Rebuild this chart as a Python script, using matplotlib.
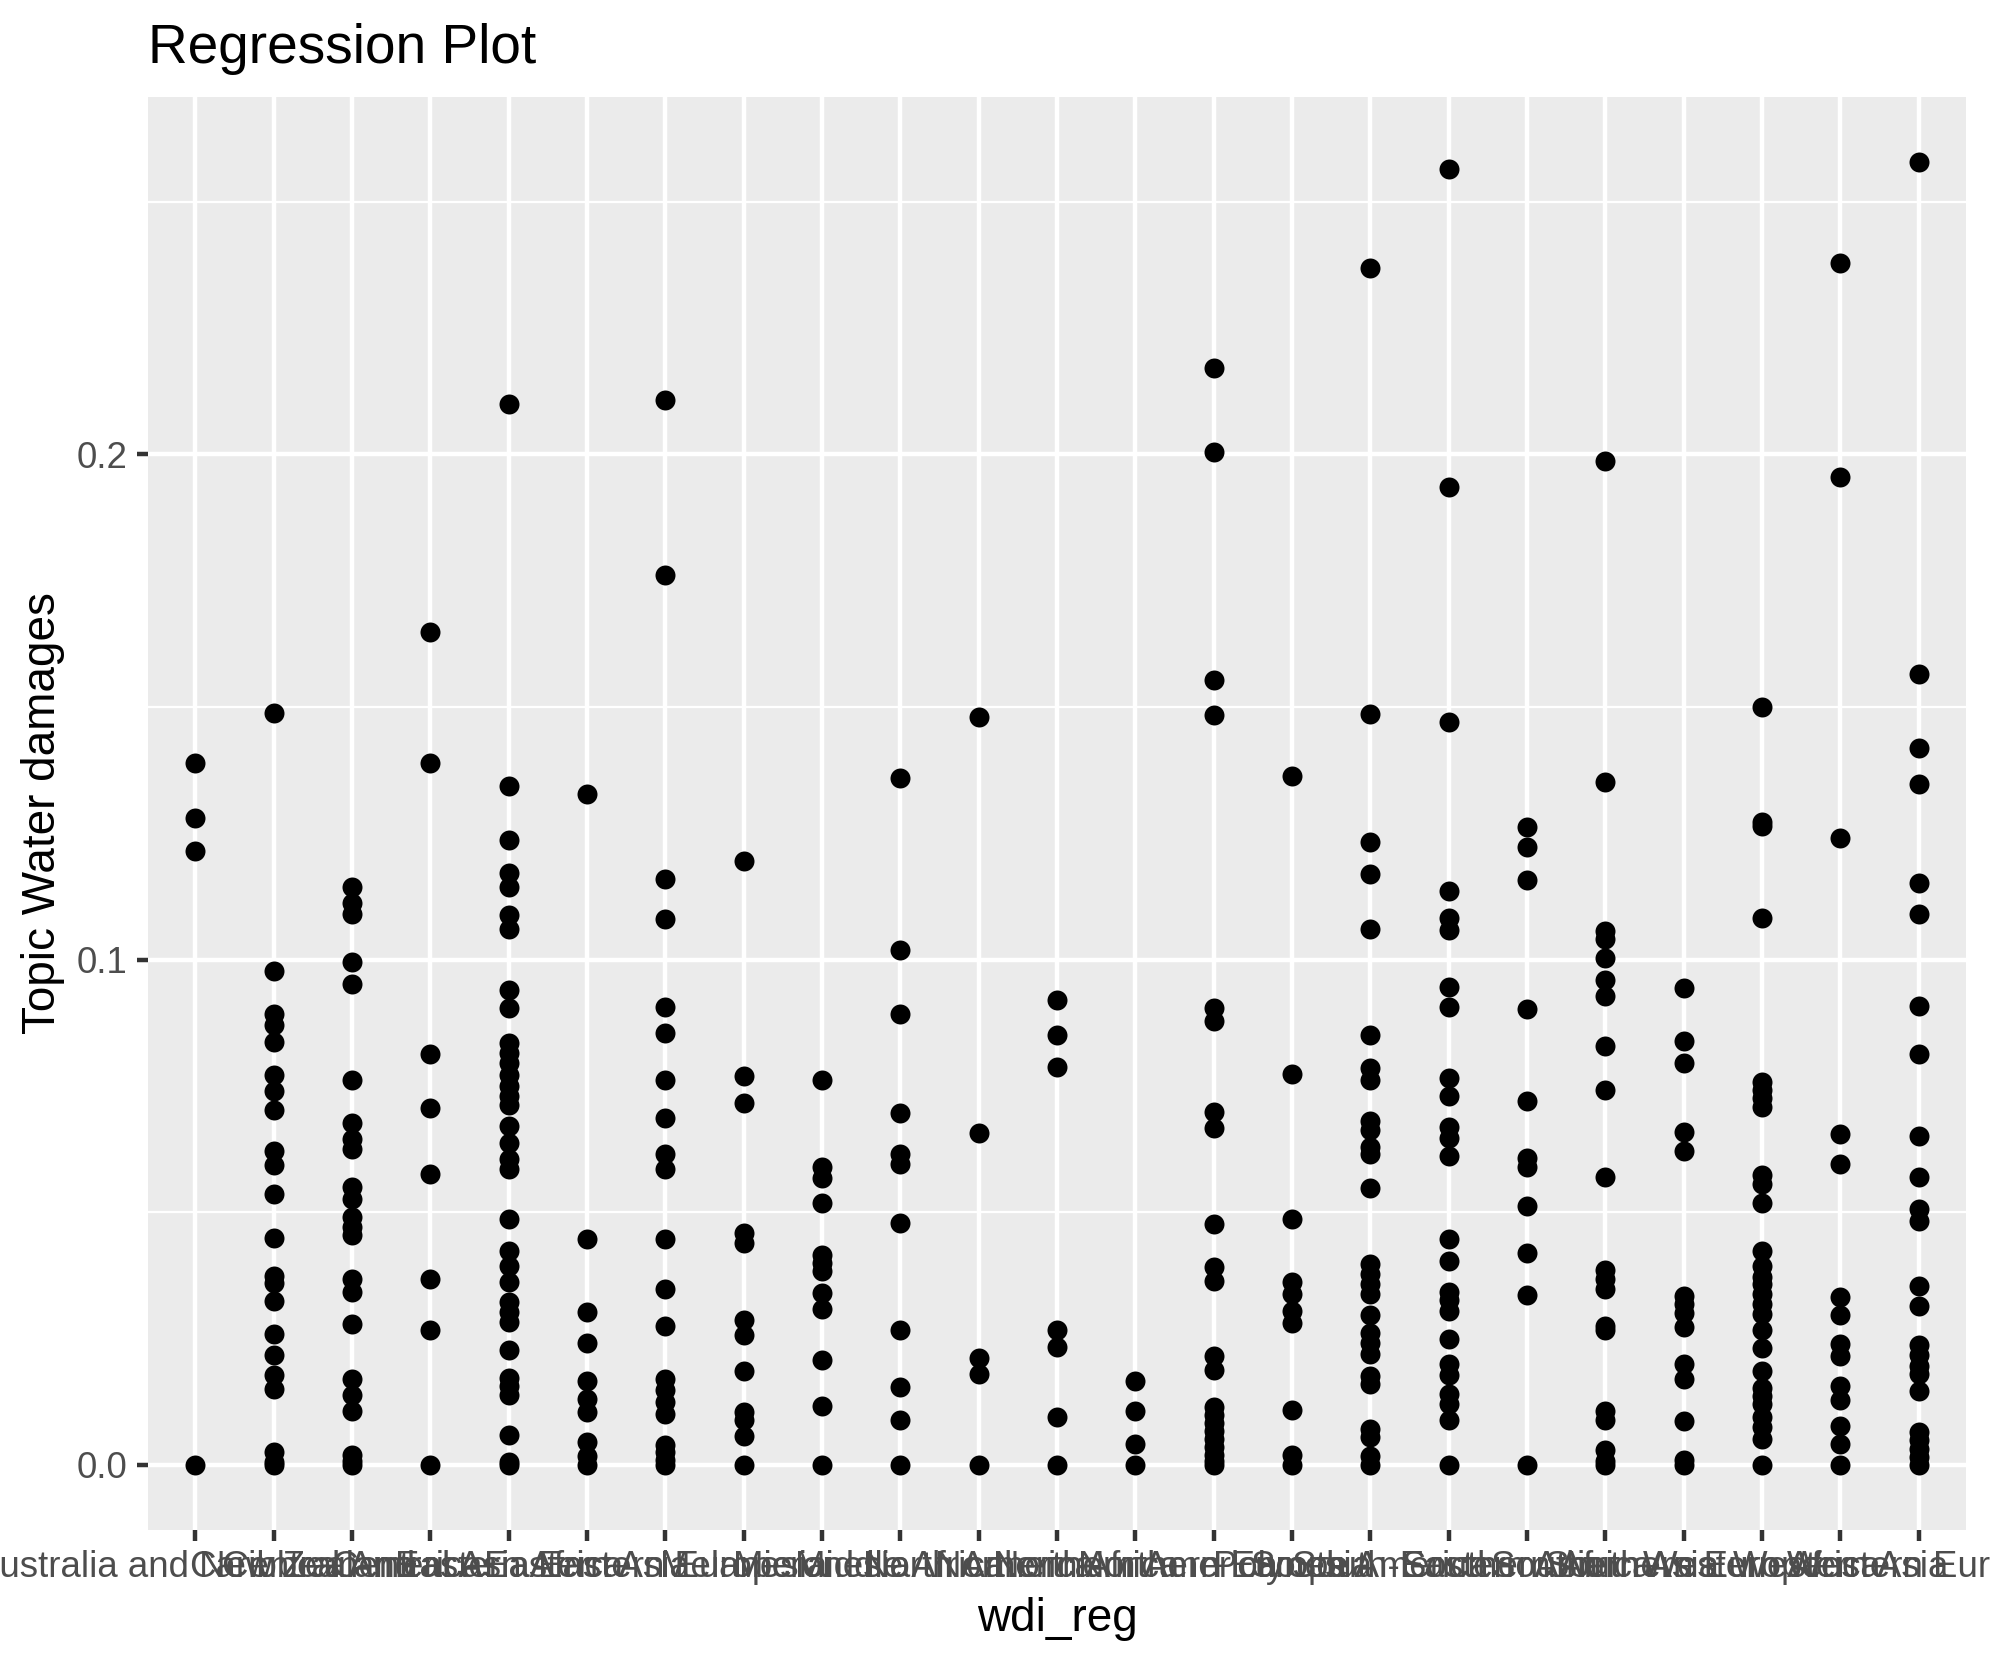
import matplotlib
matplotlib.use("Agg")
import matplotlib.pyplot as plt
import numpy as np

plt.rcParams['font.family'] = ['Liberation Sans', 'DejaVu Sans']

categories = [
    "Australia and New Zealand", "Caribbean", "Central America", "Central Asia",
    "Eastern Africa", "Eastern Asia", "Eastern Europe", "Melanesia", "Micronesia",
    "Middle Africa", "North America", "Northern Africa", "Northern America",
    "Northern Europe", "Polynesia", "South America", "South-Eastern Asia",
    "Southern Africa", "Southern Asia", "Southern Europe", "Western Africa",
    "Western Asia", "Western Europe",
]

v_aus = [0.139, 0.128, 0.1215, 0.0]
v_car = [0.1488, 0.0977, 0.0893, 0.0870, 0.0836, 0.0772, 0.0740, 0.0703, 0.0621, 0.0593, 0.0536,
         0.0449, 0.0373, 0.0360, 0.0324, 0.0259, 0.0218, 0.0178, 0.0150, 0.0025, 0.0005, 0.0]
v_cam = [0.1143, 0.1111, 0.1091, 0.0995, 0.0952, 0.0762, 0.0676, 0.0645, 0.0625, 0.0550, 0.0526,
         0.0490, 0.0470, 0.0455, 0.0367, 0.0342, 0.0278, 0.0170, 0.0138, 0.0106, 0.0020, 0.0008, 0.0]
v_cas = [0.1648, 0.1390, 0.0813, 0.0706, 0.0575, 0.0367, 0.0266, 0.0]
v_eaf = [0.2100, 0.1343, 0.1237, 0.1172, 0.1144, 0.1088, 0.1061, 0.0939, 0.0904, 0.0835, 0.0815,
         0.0795, 0.0772, 0.0750, 0.0730, 0.0712, 0.0671, 0.0636, 0.0605, 0.0585, 0.0486, 0.0423,
         0.0393, 0.0362, 0.0322, 0.0302, 0.0282, 0.0228, 0.0172, 0.0155, 0.0138, 0.0059, 0.0005, 0.0]
v_eas = [0.1327, 0.0446, 0.0302, 0.0241, 0.0165, 0.0130, 0.0104, 0.0044, 0.0018, 0.0]
v_eeu = [0.2108, 0.1761, 0.1159, 0.1081, 0.0906, 0.0855, 0.0762, 0.0686, 0.0615, 0.0585, 0.0446,
         0.0347, 0.0274, 0.0170, 0.0148, 0.0125, 0.0100, 0.0038, 0.0025, 0.0010, 0.0]
v_mel = [0.1195, 0.0770, 0.0716, 0.0458, 0.0438, 0.0286, 0.0256, 0.0185, 0.0104, 0.0089, 0.0057, 0.0]
v_mic = [0.0762, 0.0590, 0.0567, 0.0519, 0.0415, 0.0400, 0.0383, 0.0339, 0.0309, 0.0207, 0.0117, 0.0]
v_maf = [0.1359, 0.1018, 0.0892, 0.0696, 0.0615, 0.0595, 0.0479, 0.0266, 0.0153, 0.0088, 0.0]
v_nam1 = [0.1481, 0.0656, 0.0211, 0.0180, 0.0]
v_naf = [0.0919, 0.0850, 0.0787, 0.0266, 0.0233, 0.0094, 0.0]
v_nam = [0.0165, 0.0106, 0.0040, 0.0]
v_neu = [0.2171, 0.2005, 0.1553, 0.1485, 0.0904, 0.0879, 0.0698, 0.0666, 0.0477, 0.0391, 0.0364,
         0.0216, 0.0188, 0.0114, 0.0098, 0.0082, 0.0066, 0.0050, 0.0035, 0.0020, 0.0008, 0.0]
v_pol = [0.1364, 0.0774, 0.0487, 0.0362, 0.0337, 0.0305, 0.0281, 0.0109, 0.0020, 0.0]
v_sam = [0.2369, 0.1486, 0.1233, 0.1170, 0.1061, 0.0850, 0.0785, 0.0762, 0.0681, 0.0663, 0.0628,
         0.0615, 0.0548, 0.0398, 0.0378, 0.0357, 0.0337, 0.0297, 0.0261, 0.0241, 0.0220, 0.0175,
         0.0160, 0.0071, 0.0054, 0.0018, 0.0]
v_sea = [0.2565, 0.1935, 0.1470, 0.1136, 0.1083, 0.1058, 0.0946, 0.0906, 0.0765, 0.0729, 0.0668,
         0.0646, 0.0612, 0.0446, 0.0403, 0.0342, 0.0327, 0.0304, 0.0248, 0.0200, 0.0178, 0.0140,
         0.0120, 0.0089, 0.0]
v_saf = [0.1263, 0.1223, 0.1157, 0.0903, 0.0720, 0.0607, 0.0590, 0.0512, 0.0420, 0.0335, 0.0]
v_sas = [0.1987, 0.1351, 0.1056, 0.1040, 0.1003, 0.0959, 0.0927, 0.0828, 0.0741, 0.0569, 0.0385,
         0.0368, 0.0347, 0.0274, 0.0266, 0.0107, 0.0089, 0.0030, 0.0008, 0.0]
v_seu = [0.0944, 0.0838, 0.0796, 0.0659, 0.0620, 0.0334, 0.0318, 0.0300, 0.0273, 0.0200, 0.0170,
         0.0086, 0.0010, 0.0]
v_waf = [0.1499, 0.1273, 0.1265, 0.1083, 0.0757, 0.0742, 0.0725, 0.0708, 0.0573, 0.0555, 0.0519,
         0.0423, 0.0393, 0.0372, 0.0357, 0.0337, 0.0319, 0.0299, 0.0266, 0.0231, 0.0186, 0.0151,
         0.0136, 0.0121, 0.0095, 0.0075, 0.0050, 0.0]
v_was = [0.2379, 0.1955, 0.1240, 0.0654, 0.0595, 0.0332, 0.0297, 0.0239, 0.0216, 0.0155, 0.0128,
         0.0077, 0.0040, 0.0]
v_weu = [0.2578, 0.1565, 0.1419, 0.1347, 0.1151, 0.1090, 0.0909, 0.0813, 0.0651, 0.0569, 0.0507,
         0.0482, 0.0354, 0.0315, 0.0236, 0.0218, 0.0195, 0.0180, 0.0145, 0.0064, 0.0048, 0.0032,
         0.0015, 0.0]

series = [v_aus, v_car, v_cam, v_cas, v_eaf, v_eas, v_eeu, v_mel, v_mic, v_maf, v_nam1, v_naf,
          v_nam, v_neu, v_pol, v_sam, v_sea, v_saf, v_sas, v_seu, v_waf, v_was, v_weu]

y_ticks = [0.0, 0.1, 0.2]
y_tick_labels = ["0.0", "0.1", "0.2"]

W, H, DPI = 1990, 1665, 300
fig = plt.figure(figsize=(W / DPI, H / DPI), dpi=DPI)
ax = fig.add_axes([148.4 / W, 1 - 1529.8 / H, (1965.7 - 148.4) / W, (1529.8 - 97.3) / H])
ax.set_facecolor("#EBEBEB")
for s in ax.spines.values():
    s.set_visible(False)

n = len(categories)
xs, ys = [], []
for i, vals in enumerate(series):
    xs.extend([i] * len(vals))
    ys.extend(vals)

allv = np.array(ys)
lo, hi = allv.min(), allv.max()
pad = 0.05 * (hi - lo)
ax.set_ylim(lo - pad, hi + pad)
ax.set_xlim(-0.6, n - 1 + 0.6)

ax.set_yticks(y_ticks)
ax.set_yticklabels(y_tick_labels)
ax.set_yticks([0.05, 0.15, 0.25], minor=True)
ax.set_xticks(range(n))
ax.set_xticklabels(categories)

ax.grid(which="major", color="white", linewidth=1.07)
ax.grid(which="minor", axis="y", color="white", linewidth=0.53)
ax.set_axisbelow(True)

ax.tick_params(axis="both", which="major", direction="out", length=2.75, width=1.07,
               color="#333333", labelcolor="#4D4D4D", labelsize=8.8, pad=2.2)
ax.tick_params(axis="y", which="minor", length=0)

ax.scatter(xs, ys, s=23, color="black", linewidths=0, zorder=3)

ax.set_xlabel("wdi_reg", fontsize=11, color="black", labelpad=2.75)
ax.set_ylabel("Topic Water damages", fontsize=11, color="black", labelpad=2.75)
fig.text(148.4 / W, 1 - 63 / H, "Regression Plot", fontsize=13.2, color="black",
         ha="left", va="baseline")

fig.savefig("out.png", dpi=DPI)
